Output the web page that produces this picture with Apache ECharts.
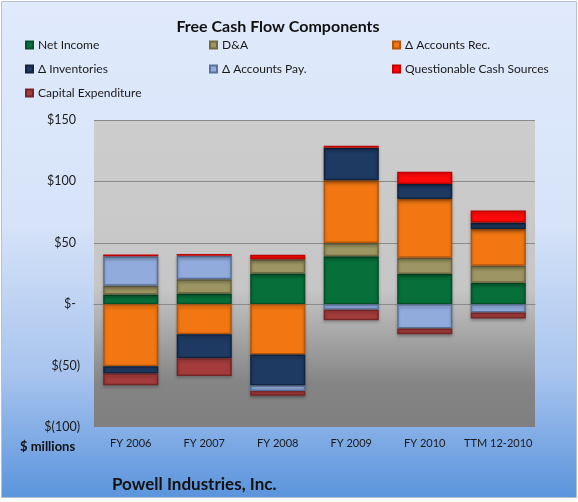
<!DOCTYPE html>
<html>
<head>
<meta charset="utf-8">
<script src="https://cdn.jsdelivr.net/npm/echarts@6/dist/echarts.min.js"></script>
<style>
  html, body { margin: 0; padding: 0; background: #fff; }
  #chart { width: 578px; height: 502px; }
</style>
</head>
<body>
<div id="chart"></div>
<script>
// values in $ millions
const categories = ['FY 2006', 'FY 2007', 'FY 2008', 'FY 2009', 'FY 2010', 'TTM 12-2010']
const netIncome = [8, 8.7, 25, 39, 24.5, 17.4]
const dna = [7, 11.7, 11.7, 10.9, 13.3, 13.9]
const accountsRec = [-50.5, -24.5, -41, 51, 47.8, 29.9]
const inventories = [-6, -19.6, -25.3, 26.6, 12.2, 5.4]
const accountsPay = [24, 19, -4.3, -4.6, -19.8, -6.8]
const questionable = [1.5, 1.5, 3.5, 1.6, 10, 9.8]
const capex = [-9.5, -14.4, -4, -8.4, -4.6, -4.9]
const yTicks = [-100, -50, 0, 50, 100, 150]

const font = 'Lato'

const seriesDefs = [
  { name: 'Net Income', data: netIncome, color: '#07703a', border: '#045127' },
  { name: 'D&A', data: dna, color: '#9d9563', border: '#6f6a43' },
  { name: 'Δ Accounts Rec.', data: accountsRec, color: '#f27712', border: '#b5560a' },
  { name: 'Δ Inventories', data: inventories, color: '#1e3a62', border: '#122540' },
  { name: 'Δ Accounts Pay.', data: accountsPay, color: '#91acdc', border: '#5a7199' },
  { name: 'Questionable Cash Sources', data: questionable, color: '#ff0a0a', border: '#c00000' },
  { name: 'Capital Expenditure', data: capex, color: '#a53c3c', border: '#752626' }
]

function fmtMoney(v) {
  if (v > 0) return '{p|$' + v + '}'
  if (v == 0) return '{p|$-}'
  return '$(' + (-v) + ')'
}

function legendCol(names, left) {
  return {
    data: names,
    orient: 'vertical',
    left: left,
    top: 38,
    padding: 0,
    itemWidth: 7,
    itemHeight: 7,
    itemGap: 10,
    icon: 'rect',
    textStyle: { fontFamily: font, fontSize: 12, color: '#1a1a1a', lineHeight: 14 }
  }
}

const chart = echarts.init(document.getElementById('chart'))

chart.setOption({
  animation: false,
  textStyle: { fontFamily: font },
  graphic: [
    {
      type: 'rect', z: -10, silent: true,
      shape: { x: 1.5, y: 1.5, width: 575, height: 496 },
      style: {
        stroke: '#b8c2cf', lineWidth: 1,
        fill: new echarts.graphic.LinearGradient(0, 0, 0, 1, [
          { offset: 0, color: '#e0eafc' },
          { offset: 0.45, color: '#d6e3f8' },
          { offset: 0.75, color: '#a8c4ee' },
          { offset: 1, color: '#5a94dc' }
        ])
      }
    },
    {
      type: 'text', left: 20, top: 440,
      style: { text: '$ millions', font: 'bold 13px Lato', fill: '#111' }
    }
  ],
  title: [
    {
      text: 'Free Cash Flow Components',
      left: 273, top: 14, textAlign: 'center',
      textStyle: { fontFamily: font, fontSize: 16, fontWeight: 'bold', color: '#111' }
    },
    {
      text: 'Powell Industries, Inc.',
      left: 107, top: 471,
      textStyle: { fontFamily: font, fontSize: 17, fontWeight: 'bold', color: '#111' }
    }
  ],
  legend: [
    legendCol(['Net Income', 'Δ Inventories', 'Capital Expenditure'], 25),
    legendCol(['D&A', 'Δ Accounts Pay.'], 209),
    legendCol(['Δ Accounts Rec.', 'Questionable Cash Sources'], 392)
  ],
  grid: {
    left: 94, right: 43, top: 120, bottom: 75,
    show: true, borderWidth: 0,
    backgroundColor: new echarts.graphic.LinearGradient(0, 0, 0, 1, [
      { offset: 0, color: '#cdcdcd' },
      { offset: 0.55, color: '#c6c6c6' },
      { offset: 0.86, color: '#848484' },
      { offset: 1, color: '#7f7f7f' }
    ])
  },
  xAxis: [
    {
      type: 'category', data: categories, position: 'bottom',
      axisLine: { onZero: false, show: false },
      axisTick: { show: false },
      axisLabel: { interval: 0, margin: 11, fontFamily: font, fontSize: 11, color: '#1a1a1a' }
    },
    {
      type: 'category', data: categories, position: 'bottom',
      axisLine: { onZero: true, lineStyle: { color: '#8a8a8a', width: 1 } },
      axisTick: { interval: 0, inside: true, length: 3, lineStyle: { color: '#8a8a8a' } },
      axisLabel: { show: false }
    }
  ],
  yAxis: {
    type: 'value', min: yTicks[0], max: yTicks[yTicks.length - 1], interval: 50,
    axisLine: { show: false },
    axisTick: { show: false },
    splitLine: {
      lineStyle: { color: ['transparent', 'transparent', 'transparent', '#8a8a8a', '#8a8a8a', '#8a8a8a'], width: 1 }
    },
    axisLabel: {
      margin: 14, fontFamily: font, fontSize: 12.5, color: '#1a1a1a',
      formatter: fmtMoney,
      rich: { p: { padding: [0, 4, 0, 0], fontFamily: font, fontSize: 12.5, color: '#1a1a1a' } }
    }
  },
  series: seriesDefs.map(s => ({
    name: s.name,
    type: 'bar',
    stack: 'fcf',
    barCategoryGap: '25%',
    data: s.data,
    itemStyle: {
      color: s.color,
      borderColor: s.border,
      borderWidth: 1.5,
      shadowBlur: 3,
      shadowOffsetY: 2,
      shadowColor: 'rgba(0,0,0,0.25)'
    }
  }))
})
</script>
</body>
</html>
